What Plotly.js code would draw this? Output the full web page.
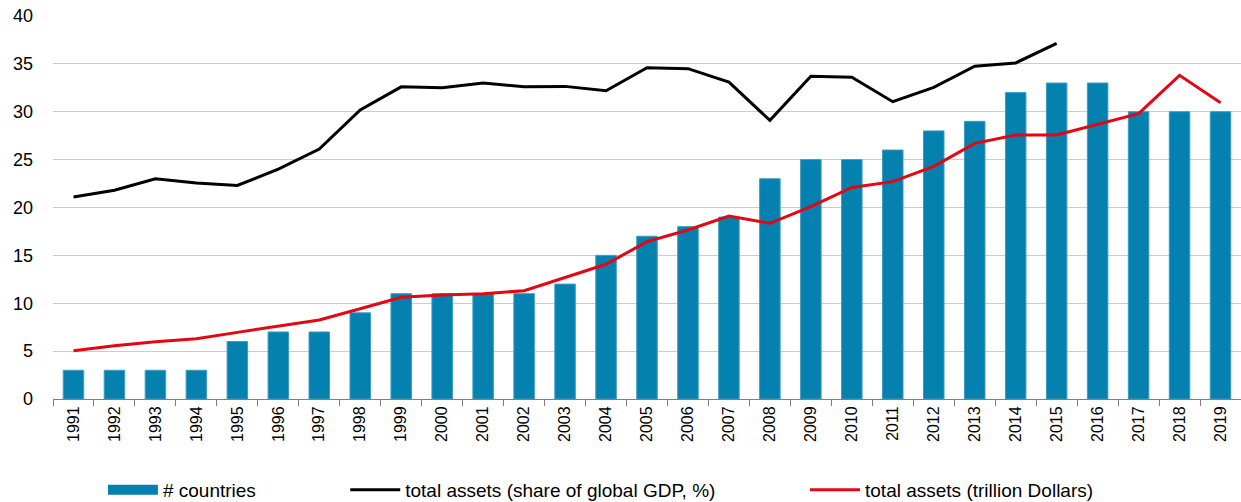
<!DOCTYPE html>
<html>
<head>
<meta charset="utf-8">
<script src="https://cdn.plot.ly/plotly-3.0.1.min.js"></script>
<style>html,body{margin:0;padding:0;background:#fff;}#chart{width:1241px;height:502px;}</style>
</head>
<body>
<div id="chart"></div>
<script>
const years = ["1991","1992","1993","1994","1995","1996","1997","1998","1999","2000","2001","2002","2003","2004","2005","2006","2007","2008","2009","2010","2011","2012","2013","2014","2015","2016","2017","2018","2019"];
const countries = [3,3,3,3,6,7,7,9,11,11,11,11,12,15,17,18,19,23,25,25,26,28,29,32,33,33,30,30,30];
const shareGDP = [21.1,21.8,23.0,22.55,22.3,24.0,26.1,30.2,32.6,32.5,33.0,32.6,32.65,32.2,34.6,34.5,33.1,29.1,33.7,33.6,31.05,32.55,34.75,35.1,37.15,null,null,null,null];
const trillions = [5.05,5.57,5.98,6.3,6.96,7.62,8.25,9.43,10.62,10.86,11.0,11.31,12.7,14.07,16.43,17.65,19.1,18.35,20.1,22.1,22.7,24.3,26.7,27.57,27.57,28.7,29.8,33.8,30.95];

const barColor = "#0481ae";
const font = "Liberation Sans, Arial, sans-serif";
const traces = [
  {type:"bar", x:years, y:countries, name:"# countries", marker:{color:barColor, line:{color:"#3a9cc2", width:1}}, width:0.5, showlegend:false},
  {type:"scatter", mode:"lines", x:years, y:countries.map(() => null), name:"# countries", line:{color:barColor, width:12}, legend:"legend", hoverinfo:"skip"},
  {type:"scatter", mode:"lines", x:years, y:shareGDP, name:"total assets (share of global GDP, %)", line:{color:"#000000", width:3}, legend:"legend2"},
  {type:"scatter", mode:"lines", x:years, y:trillions, name:"total assets (trillion Dollars)", line:{color:"#e30613", width:3}, legend:"legend3"}
];
const legBase = {orientation:"h", yref:"container", yanchor:"middle", xanchor:"left", y:0.024, font:{family:font, size:19, color:"#000"}, bgcolor:"rgba(0,0,0,0)", itemwidth:50};
const layout = {
  width:1241, height:502,
  margin:{l:53, r:0, t:16, b:103},
  paper_bgcolor:"#fff", plot_bgcolor:"#fff",
  showlegend:true,
  bargap:0.5,
  xaxis:{type:"category", tickson:"boundaries", ticks:"outside", ticklen:6, tickcolor:"#7f7f7f", showline:true, linecolor:"#7f7f7f", linewidth:1, tickangle:-90, tickfont:{family:font, size:16, color:"#000"}, showgrid:false, automargin:false},
  yaxis:{range:[0,40], dtick:5, showline:false, gridcolor:"#cccccc", gridwidth:1, zeroline:false, tickfont:{family:font, size:18, color:"#000"}, ticks:"", ticklabelstandoff:19, automargin:false},
  legend:Object.assign({}, legBase, {x:0.042}),
  legend2:Object.assign({}, legBase, {x:0.246}),
  legend3:Object.assign({}, legBase, {x:0.633})
};
Plotly.newPlot("chart", traces, layout, {displayModeBar:false, staticPlot:true});
</script>
</body>
</html>
